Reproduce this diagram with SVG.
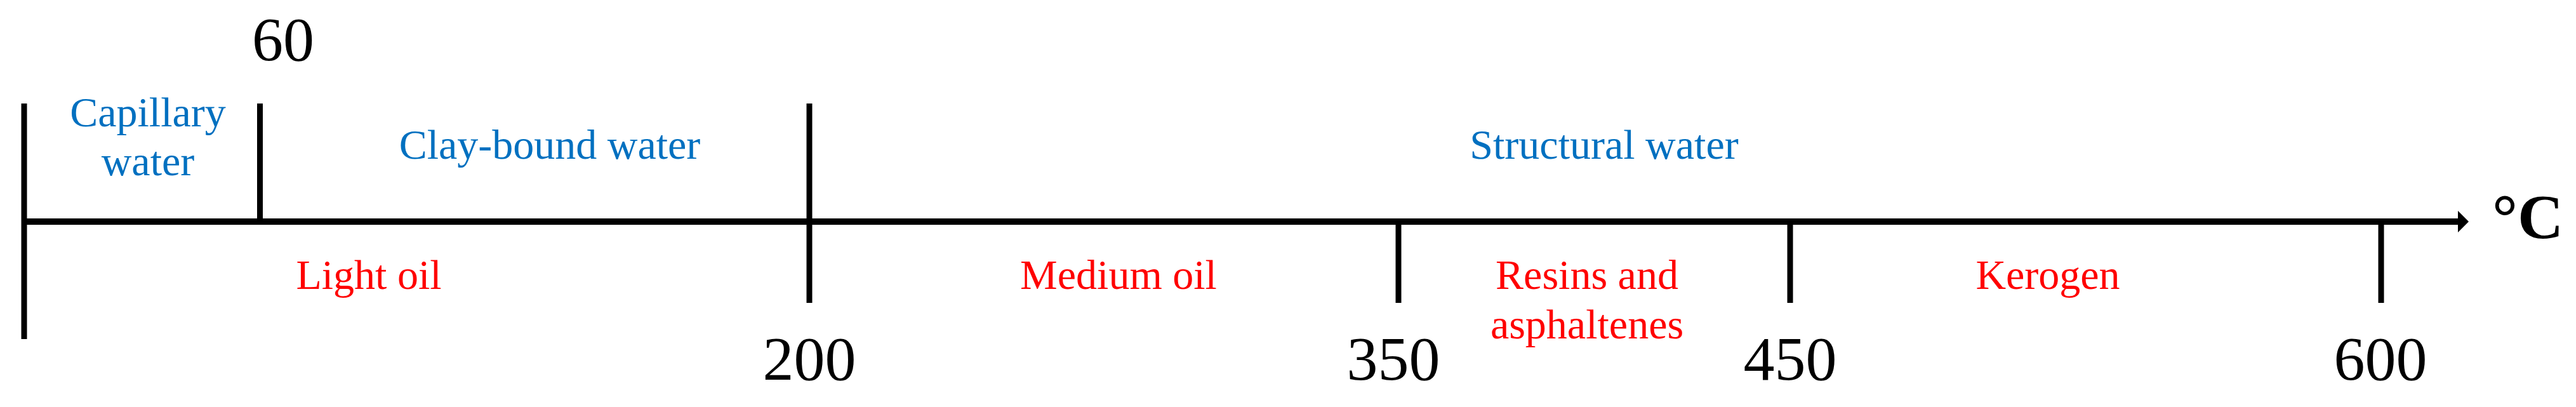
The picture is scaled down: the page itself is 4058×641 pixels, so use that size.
<svg xmlns="http://www.w3.org/2000/svg" width="4058" height="641" viewBox="0 0 4058 641">
<style>
.ln{stroke:#000;stroke-width:9;fill:none}
.ax{stroke:#000;stroke-width:10;fill:none}
.num{font-family:"Liberation Serif","Times New Roman",serif;font-size:98px;fill:#000;text-anchor:middle}
.unit{font-family:"Liberation Serif","Times New Roman",serif;font-size:100px;font-weight:bold;fill:#000}
.water{font-family:"Liberation Serif","Times New Roman",serif;font-size:66px;fill:#0070C0;text-anchor:middle}
.oil{font-family:"Liberation Serif","Times New Roman",serif;font-size:66px;fill:#FF0000;text-anchor:middle}
</style>
<defs>
<marker id="arr" markerUnits="userSpaceOnUse" markerWidth="17" markerHeight="36" refX="0" refY="18" orient="auto">
<path d="M0,1 L17,18 L0,35 Z" fill="#000"/>
</marker>
</defs>
<rect width="4058" height="641" fill="#fff"/>
<g id="connectors">
<line class="ax" x1="34" y1="349" x2="3872" y2="349" marker-end="url(#arr)"/>
<line class="ln" x1="38" y1="163" x2="38" y2="534"/>
<line class="ln" x1="409.5" y1="163" x2="409.5" y2="349"/>
<line class="ln" x1="1275" y1="163" x2="1275" y2="477"/>
<line class="ln" x1="2203" y1="349" x2="2203" y2="477"/>
<line class="ln" x1="2820" y1="349" x2="2820" y2="477"/>
<line class="ln" x1="3751" y1="349" x2="3751" y2="477"/>
</g>
<g id="tick-labels">
<text class="num" x="446" y="95">60</text>
<text class="num" x="1275" y="598">200</text>
<text class="num" x="2195" y="598">350</text>
<text class="num" x="2820" y="598">450</text>
<text class="num" x="3750" y="598">600</text>
<text class="unit" x="3926" y="375">°C</text>
</g>
<g id="capillary-water"><text class="water" x="233" y="199">Capillary</text><text class="water" x="233" y="276">water</text></g>
<g id="clay-bound-water"><text class="water" x="866" y="250">Clay-bound water</text></g>
<g id="structural-water"><text class="water" x="2527" y="250">Structural water</text></g>
<g id="light-oil"><text class="oil" x="581" y="455">Light oil</text></g>
<g id="medium-oil"><text class="oil" x="1762" y="455">Medium oil</text></g>
<g id="resins-asphaltenes"><text class="oil" x="2500" y="455">Resins and</text><text class="oil" x="2500" y="533">asphaltenes</text></g>
<g id="kerogen"><text class="oil" x="3226" y="455">Kerogen</text></g>
</svg>
